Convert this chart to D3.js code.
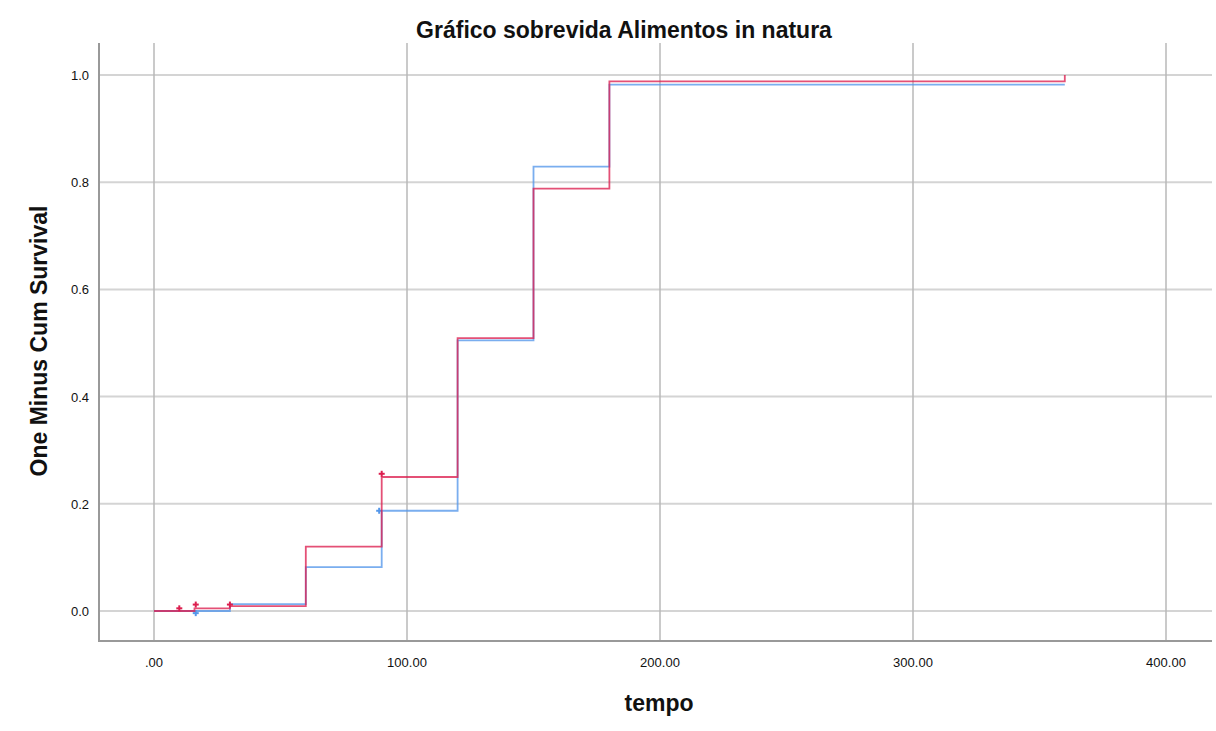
<!DOCTYPE html>
<html>
<head>
<meta charset="utf-8">
<script src="https://cdn.jsdelivr.net/npm/d3@7"></script>
<style>
  body { margin: 0; background: #fff; }
  text { font-family: "Liberation Sans", Arial, sans-serif; }
</style>
</head>
<body>
<div id="chart"></div>
<script>
const xTicks = [0, 100, 200, 300, 400];
const yTicks = [0, 0.2, 0.4, 0.6, 0.8, 1.0];

// step times (tempo) and one-minus-survival values
const redTimes = [0, 16, 30, 60, 90, 120, 150, 180, 360];
const redValues = [0, 0.005, 0.009, 0.12, 0.25, 0.509, 0.788, 0.988, 1.0];
const blueTimes = [0, 16, 30, 60, 90, 120, 150, 180, 360];
const blueValues = [0, 0.0, 0.013, 0.082, 0.187, 0.505, 0.829, 0.982, 0.982];

// censored marks
const redCensorT = [10, 16.5, 30, 90];
const redCensorV = [0.005, 0.012, 0.012, 0.256];
const blueCensorT = [16.5, 89];
const blueCensorV = [-0.004, 0.187];

const width = 1216;
const height = 731;

const x = d3.scaleLinear().domain([0, 400]).range([154, 1166]);
const y = d3.scaleLinear().domain([0, 1]).range([611, 75]);

const frame = { left: 99, right: 1212, top: 43, bottom: 641 };

const svg = d3
  .select("#chart")
  .append("svg")
  .attr("width", width)
  .attr("height", height);

/* Grid */
svg
  .append("g")
  .selectAll("line")
  .data(yTicks)
  .join("line")
  .attr("x1", frame.left)
  .attr("x2", frame.right)
  .attr("y1", (d) => y(d))
  .attr("y2", (d) => y(d))
  .attr("stroke", "#d4d4d4")
  .attr("stroke-width", 2);

svg
  .append("g")
  .selectAll("line")
  .data(xTicks)
  .join("line")
  .attr("x1", (d) => x(d))
  .attr("x2", (d) => x(d))
  .attr("y1", frame.top)
  .attr("y2", frame.bottom)
  .attr("stroke", "#b8b8b8")
  .attr("stroke-width", 1.5);

/* Axes frame */
svg
  .append("line")
  .attr("x1", frame.left)
  .attr("x2", frame.left)
  .attr("y1", frame.top)
  .attr("y2", frame.bottom + 1)
  .attr("stroke", "#999")
  .attr("stroke-width", 2);
svg
  .append("line")
  .attr("x1", frame.left)
  .attr("x2", frame.right)
  .attr("y1", frame.bottom)
  .attr("y2", frame.bottom)
  .attr("stroke", "#999")
  .attr("stroke-width", 2);

/* Tick labels */
svg
  .append("g")
  .selectAll("text")
  .data(yTicks)
  .join("text")
  .attr("x", 89)
  .attr("y", (d) => y(d) + 5)
  .attr("text-anchor", "end")
  .attr("font-size", 13)
  .attr("fill", "#111")
  .text((d) => d3.format(".1f")(d));

svg
  .append("g")
  .selectAll("text")
  .data(xTicks)
  .join("text")
  .attr("x", (d) => x(d))
  .attr("y", 667)
  .attr("text-anchor", "middle")
  .attr("font-size", 13)
  .attr("fill", "#111")
  .text((d) => (d === 0 ? ".00" : d3.format(".2f")(d)));

/* Lines */
const line = d3
  .line()
  .x((d) => x(d[0]))
  .y((d) => y(d[1]))
  .curve(d3.curveStepAfter);

const series = [
  { t: blueTimes, v: blueValues, color: "#5497ea", ct: blueCensorT, cv: blueCensorV },
  { t: redTimes, v: redValues, color: "#dc1f4f", ct: redCensorT, cv: redCensorV },
];

series.forEach((s) => {
  svg
    .append("path")
    .attr("d", line(d3.zip(s.t, s.v)))
    .attr("fill", "none")
    .attr("stroke", s.color)
    .attr("stroke-opacity", 0.78)
    .attr("stroke-width", 1.8);

  const marks = svg.append("g").selectAll("g").data(d3.zip(s.ct, s.cv)).join("g");
  marks
    .append("line")
    .attr("x1", (d) => x(d[0]) - 3)
    .attr("x2", (d) => x(d[0]) + 3)
    .attr("y1", (d) => y(d[1]))
    .attr("y2", (d) => y(d[1]))
    .attr("stroke", s.color)
    .attr("stroke-width", 2);
  marks
    .append("line")
    .attr("x1", (d) => x(d[0]))
    .attr("x2", (d) => x(d[0]))
    .attr("y1", (d) => y(d[1]) - 3)
    .attr("y2", (d) => y(d[1]) + 3)
    .attr("stroke", s.color)
    .attr("stroke-width", 2);
});

/* Titles */
svg
  .append("text")
  .attr("x", 624)
  .attr("y", 38)
  .attr("text-anchor", "middle")
  .attr("font-size", 23)
  .attr("font-weight", "bold")
  .attr("fill", "#111")
  .text("Gráfico sobrevida Alimentos in natura");

svg
  .append("text")
  .attr("x", 659)
  .attr("y", 711)
  .attr("text-anchor", "middle")
  .attr("font-size", 23)
  .attr("font-weight", "bold")
  .attr("fill", "#111")
  .text("tempo");

svg
  .append("text")
  .attr("transform", "translate(47,341) rotate(-90)")
  .attr("text-anchor", "middle")
  .attr("font-size", 23)
  .attr("font-weight", "bold")
  .attr("fill", "#111")
  .text("One Minus Cum Survival");
</script>
</body>
</html>
